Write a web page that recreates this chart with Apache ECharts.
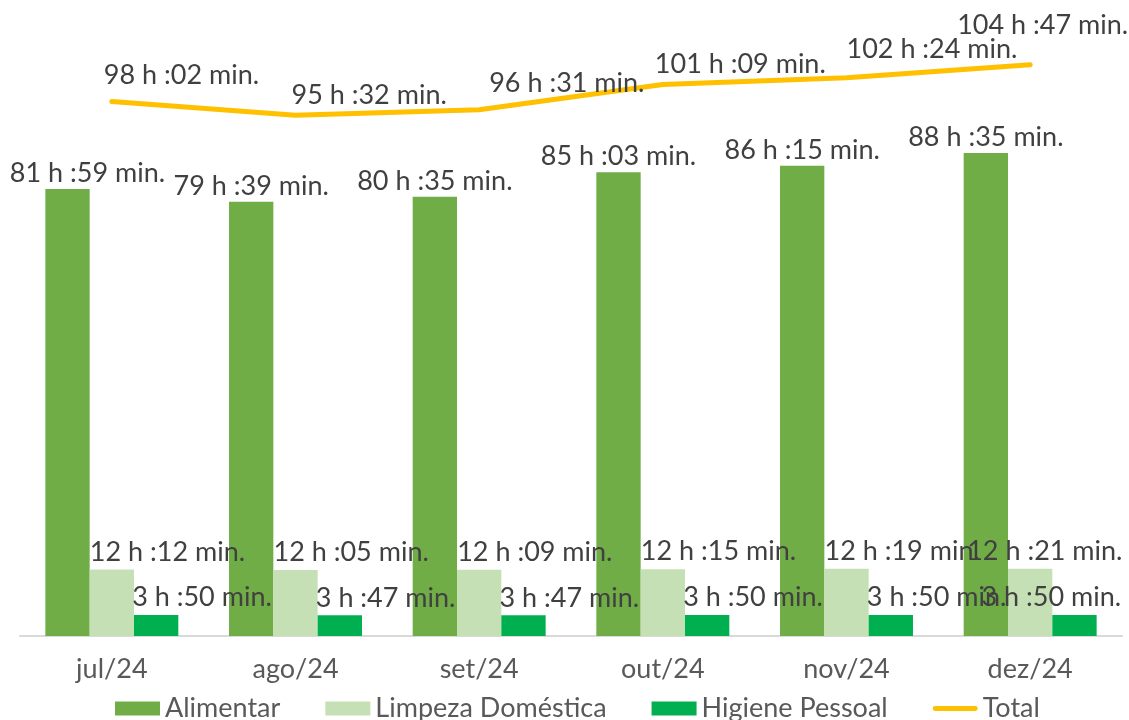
<!DOCTYPE html>
<html>
<head>
<meta charset="utf-8">
<script src="https://cdn.jsdelivr.net/npm/echarts@6/dist/echarts.min.js"></script>
<style>html,body{margin:0;padding:0;background:#fff;}#c{width:1129px;height:720px;}</style>
</head>
<body>
<div id="c"></div>
<script>
const categories = ['jul/24', 'ago/24', 'set/24', 'out/24', 'nov/24', 'dez/24'];
// values as "hours:minutes"
const alimentar = ['81:59', '79:39', '80:35', '85:03', '86:15', '88:35'];
const limpeza   = ['12:12', '12:05', '12:09', '12:15', '12:19', '12:21'];
const higiene   = ['3:50', '3:47', '3:47', '3:50', '3:50', '3:50'];
const total     = ['98:02', '95:32', '96:31', '101:09', '102:24', '104:47'];

function toHours(s) { const p = s.split(':'); return +p[0] + (+p[1]) / 60; }
function fmt(s) { const p = s.split(':'); return p[0] + ' h :' + p[1] + ' min.'; }

const FONT = 'Lato';
const TXT = '#404040';

function data(arr, overrides) {
  return arr.map((s, i) => {
    const d = { value: toHours(s), raw: s };
    if (overrides && overrides[i]) d.label = overrides[i];
    return d;
  });
}

const chart = echarts.init(document.getElementById('c'));
chart.setOption({
  animation: false,
  textStyle: { fontFamily: FONT },
  grid: { left: 20, right: 7, top: 9, bottom: 84, containLabel: false },
  xAxis: {
    type: 'category',
    data: categories,
    axisLine: { lineStyle: { color: '#D9D9D9', width: 2 } },
    axisTick: { show: false },
    axisLabel: { fontSize: 27, color: '#595959', margin: 20, fontFamily: FONT }
  },
  yAxis: { type: 'value', min: 0, max: 115, show: false, splitLine: { show: false } },
  legend: {
    bottom: -7, left: 110,
    itemWidth: 45, itemHeight: 14, itemGap: 45,
    textStyle: { fontSize: 27, color: '#595959', fontFamily: FONT },
    data: [
      { name: 'Alimentar', icon: 'rect' },
      { name: 'Limpeza Doméstica', icon: 'rect' },
      { name: 'Higiene Pessoal', icon: 'rect' },
      { name: 'Total', icon: 'path://M3,0 L53,0 A3,3 0 0 1 53,6 L3,6 A3,3 0 0 1 3,0 Z' }
    ]
  },
  series: [
    {
      name: 'Alimentar', type: 'bar', barGap: '0%', barCategoryGap: '27.6%',
      itemStyle: { color: '#70AD47' },
      data: data(alimentar, { 0: { offset: [20, 0] } }),
      label: { show: true, position: 'top', distance: 2, fontSize: 27, color: TXT, fontFamily: FONT,
        formatter: p => fmt(p.data.raw) }
    },
    {
      name: 'Limpeza Doméstica', type: 'bar', barGap: '0%', barCategoryGap: '27.6%',
      itemStyle: { color: '#C5E0B4' },
      data: data(limpeza, { 5: { offset: [-63, 0] } }),
      label: { show: true, position: 'top', align: 'left', offset: [-22, 0], distance: 4, fontSize: 27, color: TXT, fontFamily: FONT,
        formatter: p => fmt(p.data.raw) }
    },
    {
      name: 'Higiene Pessoal', type: 'bar', barGap: '0%', barCategoryGap: '27.6%',
      itemStyle: { color: '#00B050' },
      data: data(higiene, { 5: { offset: [-93, 0] } }),
      label: { show: true, position: 'top', align: 'left', offset: [-24, 0], distance: 4, fontSize: 27, color: TXT, fontFamily: FONT,
        formatter: p => fmt(p.data.raw) }
    },
    {
      name: 'Total', type: 'line', symbol: 'circle', symbolSize: 1, showSymbol: true,
      lineStyle: { color: '#FFC000', width: 5, cap: 'round' },
      itemStyle: { color: '#FFC000' },
      data: data(total, {
        1: { offset: [-4, 6] },
        2: { offset: [10, 0] },
        3: { offset: [-8, 6] },
        4: { offset: [0, -2] },
        5: { offset: [-73, -13] }
      }),
      label: { show: true, position: 'top', align: 'left', offset: [-8, 0], distance: 12, fontSize: 27, color: TXT, fontFamily: FONT,
        formatter: p => fmt(p.data.raw) }
    }
  ]
});
</script>
</body>
</html>
